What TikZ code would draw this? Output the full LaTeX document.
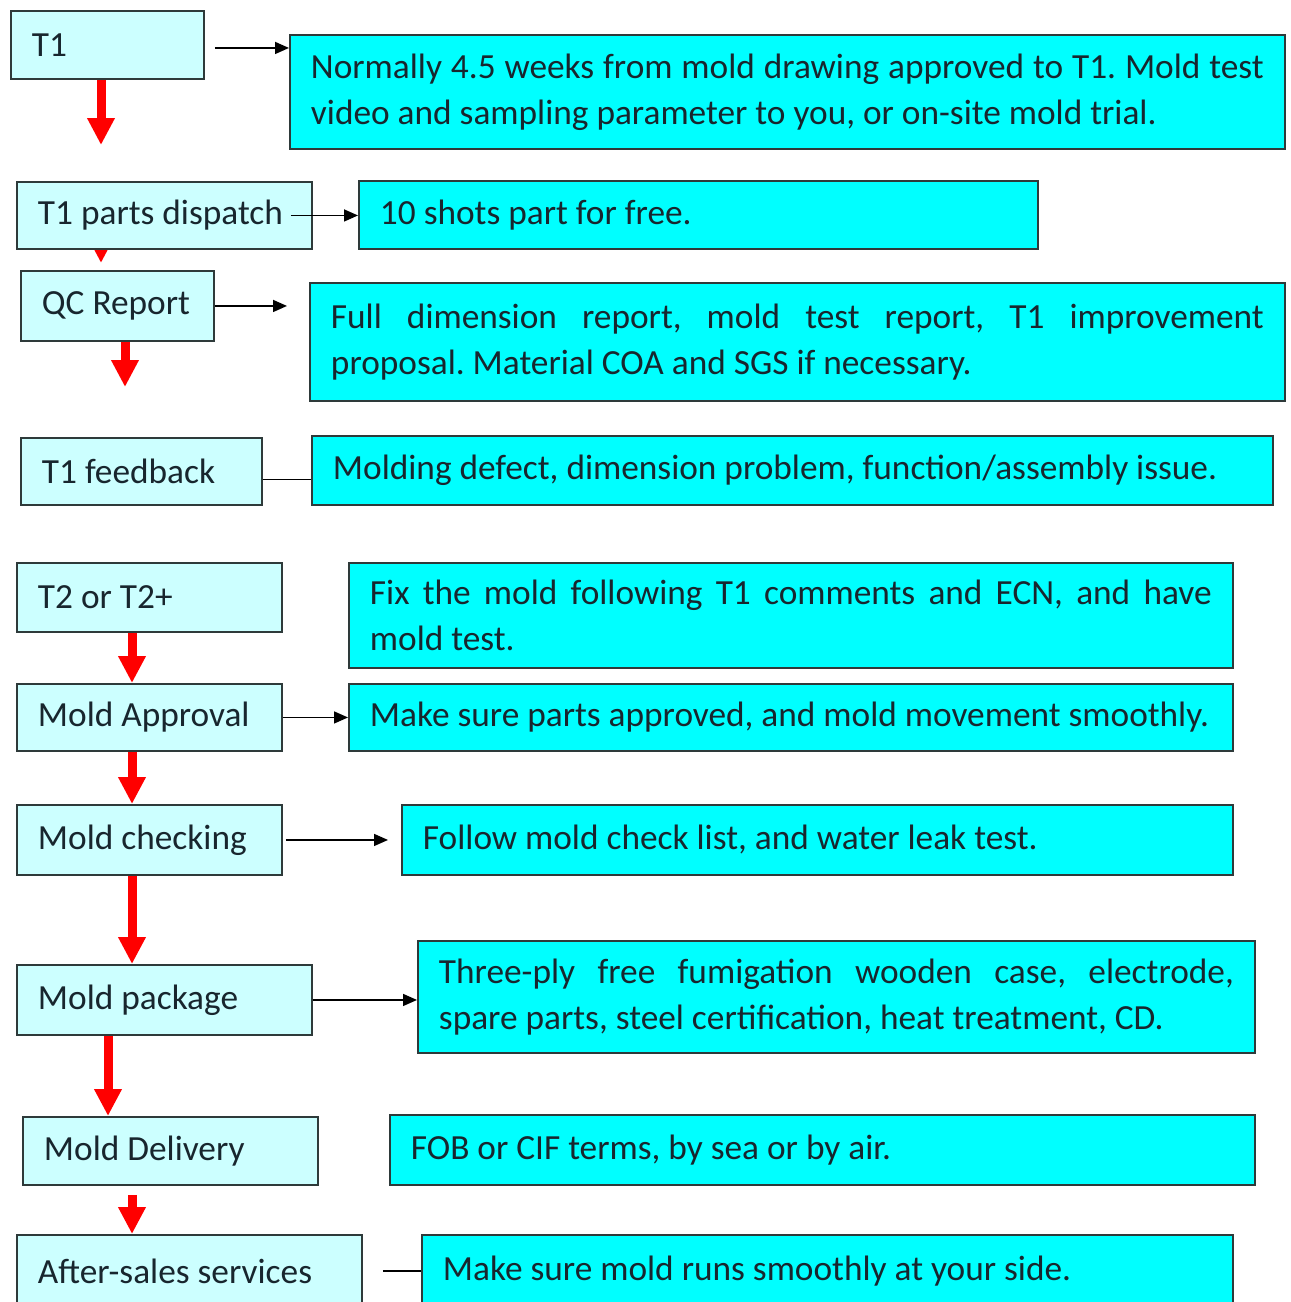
\documentclass[tikz,border=0pt]{standalone}
\usepackage{fontspec}
\setmainfont{Carlito}
\usepackage{xcolor}
\usepackage{tikz}
\usetikzlibrary{positioning}
\usetikzlibrary{arrows.meta}
\usetikzlibrary{backgrounds}
\usetikzlibrary{calc}

\definecolor{stepfill}{HTML}{CCFFFF}
\definecolor{notefill}{HTML}{00FFFF}
\definecolor{boxline}{HTML}{2E3A3A}
\definecolor{inktext}{HTML}{18262E}
\definecolor{flowred}{HTML}{FF0000}

\hyphenpenalty=10000
\tolerance=9999
\frenchspacing

\tikzset{
  stepbox/.style={draw=boxline, line width=1.1pt, fill=stepfill, text=inktext, anchor=north west,
    inner xsep=0.42cm, align=flush left, font=\fontsize{20.1}{26.1}\selectfont},
  notebox/.style={stepbox, fill=notefill, align=justify},
  flow/.style={draw=flowred, line width=0.18cm, -{Triangle[length=0.54cm, width=0.52cm]}},
  link/.style={line width=0.9pt, -{Triangle[length=0.28cm, width=0.24cm]}},
  plainlink/.style={line width=0.9pt}
}

\begin{document}
\begin{tikzpicture}[x=0.02cm, y=-0.02cm]

\useasboundingbox (0,0) rectangle (1291,1302);

% Steps on the left
\node[stepbox, text width=3.02cm, minimum height=1.36cm] (t1) at (10,10) {T1};
\node[stepbox, text width=5.06cm, minimum height=1.34cm] (disp) at (16,181) {T1 parts dispatch};
\node[stepbox, text width=3.02cm, minimum height=1.40cm] (qc) at (20,270) {QC Report};
\node[stepbox, text width=3.98cm, minimum height=1.34cm] (fb) at (20,437) {T1 feedback};
\node[stepbox, text width=4.46cm, minimum height=1.38cm] (t2) at (16,562) {T2 or T2+};
\node[stepbox, text width=4.46cm, minimum height=1.34cm] (appr) at (16,683) {Mold Approval};
\node[stepbox, text width=4.46cm, minimum height=1.40cm] (chk) at (16,804) {Mold checking};
\node[stepbox, text width=5.06cm, minimum height=1.40cm] (pkg) at (16,964) {Mold package};
\node[stepbox, text width=5.06cm, minimum height=1.36cm] (dlv) at (22,1116) {Mold Delivery};
\node[stepbox, text width=6.06cm, minimum height=1.44cm] (aft) at (16,1234) {After-sales services};

% Notes on the right
\node[notebox, text width=19.06cm, minimum height=2.28cm] (n1) at (289,34)
  {Normally 4.5 weeks from mold drawing approved to T1. Mold test\linebreak video and sampling parameter to you, or on-site mold trial.};
\node[notebox, text width=12.74cm, minimum height=1.36cm] (n2) at (358,180) {10 shots part for free.};
\node[notebox, text width=18.66cm, minimum height=2.36cm] (n3) at (309,282)
  {Full dimension report, mold test report, T1 improvement\linebreak proposal. Material COA and SGS if necessary.};
\node[notebox, text width=18.38cm, minimum height=1.38cm] (n4) at (311,435) {Molding defect, dimension problem, function/assembly issue.};
\node[notebox, text width=16.84cm, minimum height=2.10cm] (n5) at (348,562)
  {Fix the mold following T1 comments and ECN, and have\linebreak mold test.};
\node[notebox, text width=16.84cm, minimum height=1.34cm] (n6) at (348,683) {Make sure parts approved, and mold movement smoothly.};
\node[notebox, text width=15.78cm, minimum height=1.40cm] (n7) at (401,804) {Follow mold check list, and water leak test.};
\node[notebox, text width=15.90cm, minimum height=2.24cm] (n8) at (417,940)
  {Three-ply free fumigation wooden case, electrode,\linebreak spare parts, steel certification, heat treatment, CD.};
\node[notebox, text width=16.46cm, minimum height=1.40cm] (n9) at (389,1114) {FOB or CIF terms, by sea or by air.};
\node[notebox, text width=15.38cm, minimum height=1.44cm] (n10) at (421,1234) {Make sure mold runs smoothly at your side.};

% Black links
\draw[link] ($(t1.east)+(10,3)$) -- ($(t1.east -| n1.west)+(0,3)$);
\draw[link] ($(disp.east)+(-22,0)$) -- (disp.east -| n2.west);
\draw[link] (qc.east) -- ($(qc.east -| n3.west)+(-22,0)$);
\draw[plainlink] ($(fb.east)+(0,8)$) -- ($(fb.east -| n4.west)+(0,8)$);
\draw[link] (appr.east) -- (appr.east -| n6.west);
\draw[link] ($(chk.east)+(3,0)$) -- ($(chk.east -| n7.west)+(-13,0)$);
\draw[link] (pkg.east) -- (pkg.east -| n8.west);
\draw[plainlink] ($(aft.east)+(20,0)$) -- (aft.east -| n10.west);

% Red flow arrows
\coordinate (t1tip) at (101,145);
\coordinate (disptip) at (101,263);
\coordinate (qctip) at (125,387);
\begin{scope}[on background layer]
\draw[flow] (101,0 |- t1.south) -- (t1tip);
\draw[flow] (101,0 |- disp.center) -- (disptip);
\draw[flow] (125,0 |- qc.south) -- (qctip);
\draw[flow] (132,0 |- t2.south) -- (132,0 |- appr.north);
\draw[flow] (132,0 |- appr.south) -- (132,0 |- chk.north);
\draw[flow] (132,0 |- chk.south) -- (132,0 |- pkg.north);
\draw[flow] (108,0 |- pkg.south) -- (108,0 |- dlv.north);
\draw[flow] ($(132,0 |- dlv.south)+(0,9)$) -- (132,0 |- aft.north);
\end{scope}

\end{tikzpicture}
\end{document}
